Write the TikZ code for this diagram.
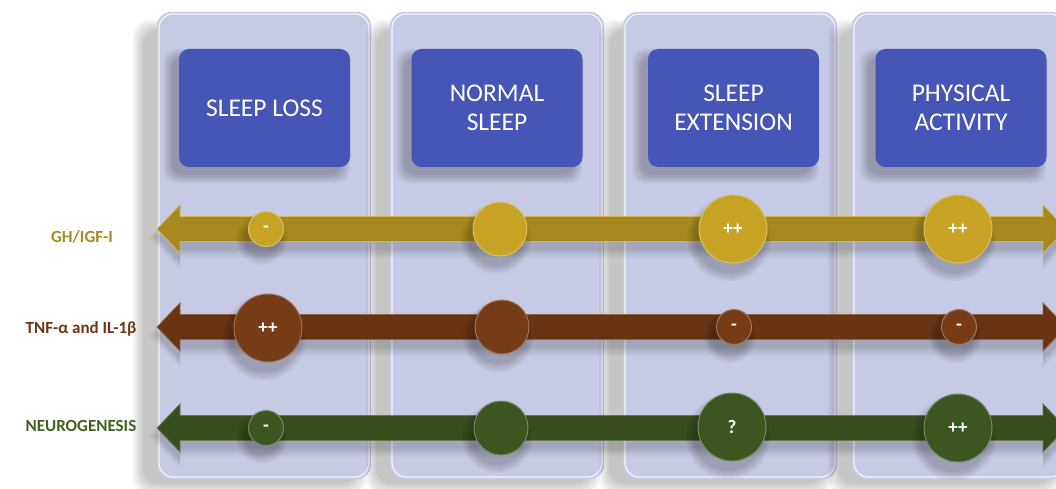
\documentclass[tikz,border=0pt]{standalone}
\usepackage{fontspec}
\setmainfont{Carlito}
\definecolor{colfill}{RGB}{199,202,228}
\definecolor{hdrblue}{RGB}{70,86,182}
\definecolor{goldshaft}{RGB}{166,136,30}
\definecolor{golddot}{RGB}{200,164,38}
\definecolor{goldtxt}{RGB}{168,139,32}
\definecolor{brownshaft}{RGB}{104,52,20}
\definecolor{browndot}{RGB}{118,60,24}
\definecolor{browntxt}{RGB}{106,54,22}
\definecolor{greenshaft}{RGB}{56,78,30}
\definecolor{greendot}{RGB}{60,86,33}
\definecolor{greentxt}{RGB}{64,96,32}
\tikzset{
  hdr/.style={fill=hdrblue, rounded corners=10pt, minimum width=171pt, minimum height=118pt,
    text=white, align=center, font=\fontsize{25.5}{29}\selectfont, inner sep=0pt},
  dot/.style={circle, inner sep=0pt, text=white, font=\bfseries\fontsize{19}{19}\selectfont, line width=1pt},
  big/.style={dot, minimum size=68pt},
  mid/.style={dot, minimum size=54pt},
  small/.style={dot, minimum size=35pt},
  rowlabel/.style={font=\bfseries\fontsize{17}{17}\selectfont, inner sep=0pt}
}
\newcommand\rowarrow[3]{%
  \foreach \k in {0,2,...,8}
    \fill[black,opacity=0.035] (157-\k,#1+8) -- (180,#1-16-\k) -- (180,#1-4.5-\k) -- (1043,#1-4.5-\k)
      -- (1043,#1-16-\k) -- (1066+\k,#1+8) -- (1043,#1+32+\k) -- (1043,#1+20.5+\k) -- (180,#1+20.5+\k)
      -- (180,#1+32+\k) -- cycle;
  \fill[#2, draw=#3, line width=0.8pt] (157,#1) -- (180,#1-24) -- (180,#1-12.5) -- (1043,#1-12.5)
      -- (1043,#1-24) -- (1066,#1) -- (1043,#1+24) -- (1043,#1+12.5) -- (180,#1+12.5)
      -- (180,#1+24) -- cycle;
}
\newcommand\dotshadow[3]{%
  \foreach \k in {0,2,...,8}
    \fill[black,opacity=0.045] (#1-4,#2+10) circle[radius=#3+\k];
}
\begin{document}
\begin{tikzpicture}[x=1pt,y=-1pt]
\useasboundingbox (0,0) rectangle (1056,489);
\clip (0,0) rectangle (1056,489);
\fill[white] (0,0) rectangle (1056,489);
% columns
\foreach \L in {157,390,623,852}{
  \foreach \k in {0,2,...,10}
    \fill[black,opacity=0.04,rounded corners=16pt] (\L-14-\k,30-\k) rectangle (\L+200+\k,484+\k);
  \fill[colfill,rounded corners=14pt] (\L,12) rectangle (\L+214,479);
  \draw[white,opacity=0.8,line width=1.2pt,rounded corners=14pt] (\L+2,14) rectangle (\L+212,477);
}
% header shadows
\foreach \c in {264.5,497,733.5,961}{
  \foreach \k in {0,2,...,8}
    \fill[black,opacity=0.05,rounded corners=12pt] (\c-93-\k,57-\k) rectangle (\c+77+\k,175+\k);
}
\node[hdr] (h1) at (264.5,108) {SLEEP LOSS};
\node[hdr] (h2) at (497,108) {NORMAL\\SLEEP};
\node[hdr] (h3) at (733.5,108) {SLEEP\\EXTENSION};
\node[hdr] (h4) at (961,108) {PHYSICAL\\ACTIVITY};
% arrows
\rowarrow{229}{goldshaft}{golddot!80!white}
\rowarrow{327}{brownshaft}{browndot!80!white}
\rowarrow{428}{greenshaft}{greendot!80!white}
% dots shadows
\dotshadow{266}{229}{17.5}\dotshadow{500}{229}{27}\dotshadow{733}{229}{34}\dotshadow{958}{229}{34}
\dotshadow{268}{328}{34}\dotshadow{502}{327}{27}\dotshadow{734}{327}{18}\dotshadow{959}{327}{18}
\dotshadow{266}{428}{17.5}\dotshadow{501}{428}{27}\dotshadow{732}{427}{34}\dotshadow{958}{428}{34}
% GH row
\node[small, fill=golddot, draw=golddot!70!white] (g1) at (266,229) {-};
\node[mid, fill=golddot, draw=golddot!70!white] (g2) at (500,229) {};
\node[big, fill=golddot, draw=golddot!70!white] (g3) at (733,229) {++};
\node[big, fill=golddot, draw=golddot!70!white] (g4) at (958,229) {++};
% TNF row
\node[big, fill=browndot, draw=browndot!70!white] (t1) at (268,328) {++};
\node[mid, fill=browndot, draw=browndot!70!white] (t2) at (502,327) {};
\node[small, fill=browndot, draw=browndot!70!white] (t3) at (734,327) {-};
\node[small, fill=browndot, draw=browndot!70!white] (t4) at (959,327) {-};
% Neuro row
\node[small, fill=greendot, draw=greendot!70!white] (n1) at (266,428) {-};
\node[mid, fill=greendot, draw=greendot!70!white] (n2) at (501,428) {};
\node[big, fill=greendot, draw=greendot!70!white] (n3) at (732,427) {?};
\node[big, fill=greendot, draw=greendot!70!white] (n4) at (958,428) {++};
% row labels
\node[rowlabel, text=goldtxt] (lg) at (82,237) {GH/IGF-I};
\node[rowlabel, text=browntxt] (lt) at (81,329) {TNF-α and IL-1β};
\node[rowlabel, text=greentxt] (ln) at (81,426) {NEUROGENESIS};
\end{tikzpicture}
\end{document}
